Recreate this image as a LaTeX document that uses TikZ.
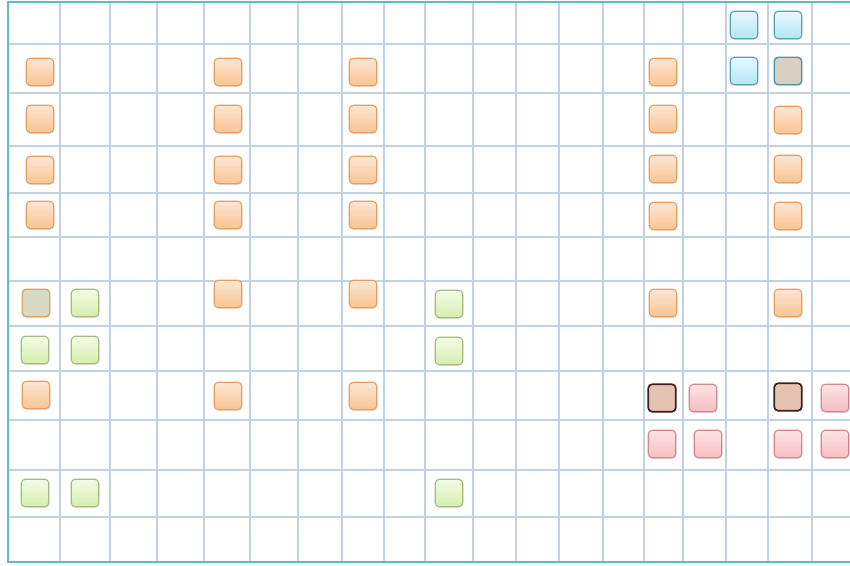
\documentclass[tikz,border=0pt]{standalone}
\usetikzlibrary{shadows}
\definecolor{gridline}{HTML}{C3D1E5}
\definecolor{frameline}{HTML}{5EBACC}
\definecolor{orangetop}{HTML}{FCE6D2}
\definecolor{orangebot}{HTML}{F8C593}
\definecolor{orangeline}{HTML}{E3A064}
\definecolor{greentop}{HTML}{F3FBE6}
\definecolor{greenbot}{HTML}{D6EFAE}
\definecolor{greenline}{HTML}{A5BB80}
\definecolor{bluetop}{HTML}{E6F8FD}
\definecolor{bluebot}{HTML}{B4E6F6}
\definecolor{blueline}{HTML}{5AA2B3}
\definecolor{pinktop}{HTML}{FDE4E4}
\definecolor{pinkbot}{HTML}{F6BEC2}
\definecolor{pinkline}{HTML}{D3878B}
\definecolor{darkfill}{HTML}{E6C3B1}
\definecolor{darkline}{HTML}{3A2222}
\definecolor{greyfill}{HTML}{D8CFC3}
\definecolor{olivefill}{HTML}{D9DAC4}
\tikzset{
  cell/.style={draw, rounded corners=4pt, minimum size=27.5pt, inner sep=0pt, line width=1.1pt,
    drop shadow={opacity=0.18, shadow xshift=0.6pt, shadow yshift=-1pt}},
  orangecell/.style={cell, draw=orangeline, top color=orangetop, bottom color=orangebot},
  greencell/.style={cell, draw=greenline, top color=greentop, bottom color=greenbot},
  bluecell/.style={cell, draw=blueline, top color=bluetop, bottom color=bluebot},
  pinkcell/.style={cell, draw=pinkline, top color=pinktop, bottom color=pinkbot},
  darkcell/.style={cell, draw=darkline, line width=1.7pt, fill=darkfill},
  greycell/.style={cell, draw=blueline!90!black, line width=1.4pt, fill=greyfill},
  olivecell/.style={cell, draw=orangeline, line width=1.4pt, fill=olivefill}
}
\begin{document}
\begin{tikzpicture}[x=1pt,y=-1pt]
    \useasboundingbox (0,0) rectangle (850,565);
    \fill[white] (0,0) rectangle (850,565);
    % grid
    \foreach \x in {60,110,157,204,250,298,342,384,425,473,516,559,603,644,683,726,768,812}
        \draw[gridline, line width=1.7pt] (\x,2) -- (\x,562);
    \foreach \y in {44,93,146,193,237,281,326,371,420,470,517}
        \draw[gridline, line width=1.7pt] (8,\y) -- (850,\y);
    \draw[frameline, line width=2.8pt] (850,2) -- (8,2) -- (8,562) -- (850,562);
    % cells
    \foreach \x/\y/\name in {40/72/oa1,40/119/oa2,40/170/oa3,40/215/oa4,36/395/oa5,
        228/72/ob1,228/119/ob2,228/170/ob3,228/215/ob4,228/294/ob5,228/396/ob6,
        363/72/oc1,363/119/oc2,363/170/oc3,363/215/oc4,363/294/oc5,363/396/oc6,
        663/72/od1,663/119/od2,663/169/od3,663/216/od4,663/303/od5,
        788/120/oe1,788/169/oe2,788/216/oe3,788/303/oe4}
        \node[orangecell] (\name) at (\x,\y) {};
    \foreach \x/\y/\name in {85/303/g1,35/350/g2,85/350/g3,35/493/g4,85/493/g5,
        449/304/g6,449/351/g7,449/493/g8}
        \node[greencell] (\name) at (\x,\y) {};
    \foreach \x/\y/\name in {744/25/b1,788/25/b2,744/71/b3}
        \node[bluecell] (\name) at (\x,\y) {};
    \node[greycell] (grey) at (788,71) {};
    \node[olivecell] (olive) at (36,303) {};
    \foreach \x/\y/\name in {703/398/p1,835/398/p2,662/444/p3,708/444/p4,788/444/p5,835/444/p6}
        \node[pinkcell] (\name) at (\x,\y) {};
    \node[darkcell] (dk1) at (662,398) {};
    \node[darkcell] (dk2) at (788,397) {};
\end{tikzpicture}
\end{document}
